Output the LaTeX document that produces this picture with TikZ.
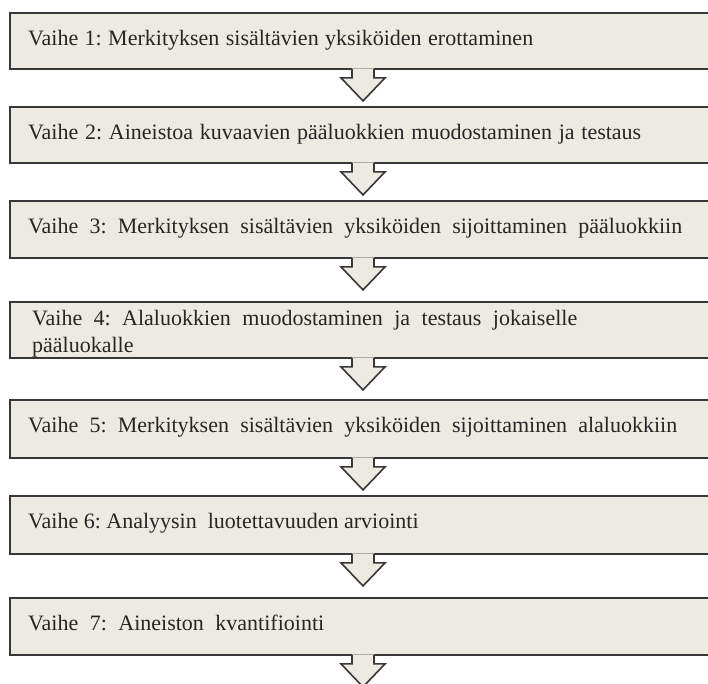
\documentclass[tikz,border=0pt]{standalone}
\usepackage{fontspec}
\setmainfont{Liberation Serif}
\usetikzlibrary{calc}
\definecolor{boxfill}{HTML}{ECEAE1}
\definecolor{boxline}{HTML}{383838}
\definecolor{txtcol}{HTML}{262626}
\tikzset{
  stepbox/.style={draw=boxline, line width=1.9pt, fill=boxfill, rectangle, anchor=north west,
    minimum width=710pt, inner sep=0pt},
  txt/.style={anchor=base west, inner sep=0pt, text=txtcol, font=\fontsize{22}{27}\selectfont\frenchspacing},
  arrline/.style={draw=boxline, line width=1.6pt, line join=miter},
}
\newcommand{\blockarrow}[1]{%
  \fill[boxfill] ($(#1.south west)+(343pt,1.5pt)$) -- ++(0,-9.5pt) -- ++(-11pt,0) -- ++(22pt,-23pt) -- ++(22pt,23pt) -- ++(-11pt,0) -- ++(0,9.5pt) -- cycle;
  \draw[arrline] ($(#1.south west)+(343pt,0.9pt)$) -- ++(0,-8.9pt) -- ++(-11pt,0) -- ++(22pt,-23pt) -- ++(22pt,23pt) -- ++(-11pt,0) -- ++(0,8.9pt);
}
\newcommand{\sline}[2]{\makebox[#1][s]{#2}}
\begin{document}
\begin{tikzpicture}[x=1pt,y=1pt]
\useasboundingbox (0,0) rectangle (708,-683);
\fill[white] (0,0) rectangle (708,-683);
\clip (0,0) rectangle (708,-683);
\node[stepbox, minimum height=56pt] (b1) at (9,-12) {};
\node[stepbox, minimum height=56pt] (b2) at (9,-106) {};
\node[stepbox, minimum height=57pt] (b3) at (9,-200) {};
\node[stepbox, minimum height=56pt] (b4) at (9,-301) {};
\node[stepbox, minimum height=58pt] (b5) at (9,-399) {};
\node[stepbox, minimum height=58pt] (b6) at (9,-495) {};
\node[stepbox, minimum height=57pt] (b7) at (9,-597) {};
\node[txt] (t1) at ($(b1.north west)+(19,-33)$) {\sline{505pt}{Vaihe 1: Merkityksen sisältävien yksiköiden erottaminen}};
\node[txt] (t2) at ($(b2.north west)+(19,-33)$) {\sline{613pt}{Vaihe 2: Aineistoa kuvaavien pääluokkien muodostaminen ja testaus}};
\node[txt] (t3) at ($(b3.north west)+(19,-33)$) {\sline{654pt}{Vaihe 3: Merkityksen sisältävien yksiköiden sijoittaminen pääluokkiin}};
\node[txt, align=left] (t4) at ($(b4.north west)+(23,-51)$) {\sline{545pt}{Vaihe 4: Alaluokkien muodostaminen ja testaus jokaiselle}\\pääluokalle};
\node[txt] (t5) at ($(b5.north west)+(19,-33)$) {\sline{649pt}{Vaihe 5: Merkityksen sisältävien yksiköiden sijoittaminen alaluokkiin}};
\node[txt] (t6) at ($(b6.north west)+(19,-33)$) {Vaihe 6: Analyysin\ \ luotettavuuden arviointi};
\node[txt] (t7) at ($(b7.north west)+(19,-33)$) {\sline{296pt}{Vaihe 7: Aineiston kvantifiointi}};
\blockarrow{b1}
\blockarrow{b2}
\blockarrow{b3}
\blockarrow{b4}
\blockarrow{b5}
\blockarrow{b6}
\blockarrow{b7}
\end{tikzpicture}
\end{document}
